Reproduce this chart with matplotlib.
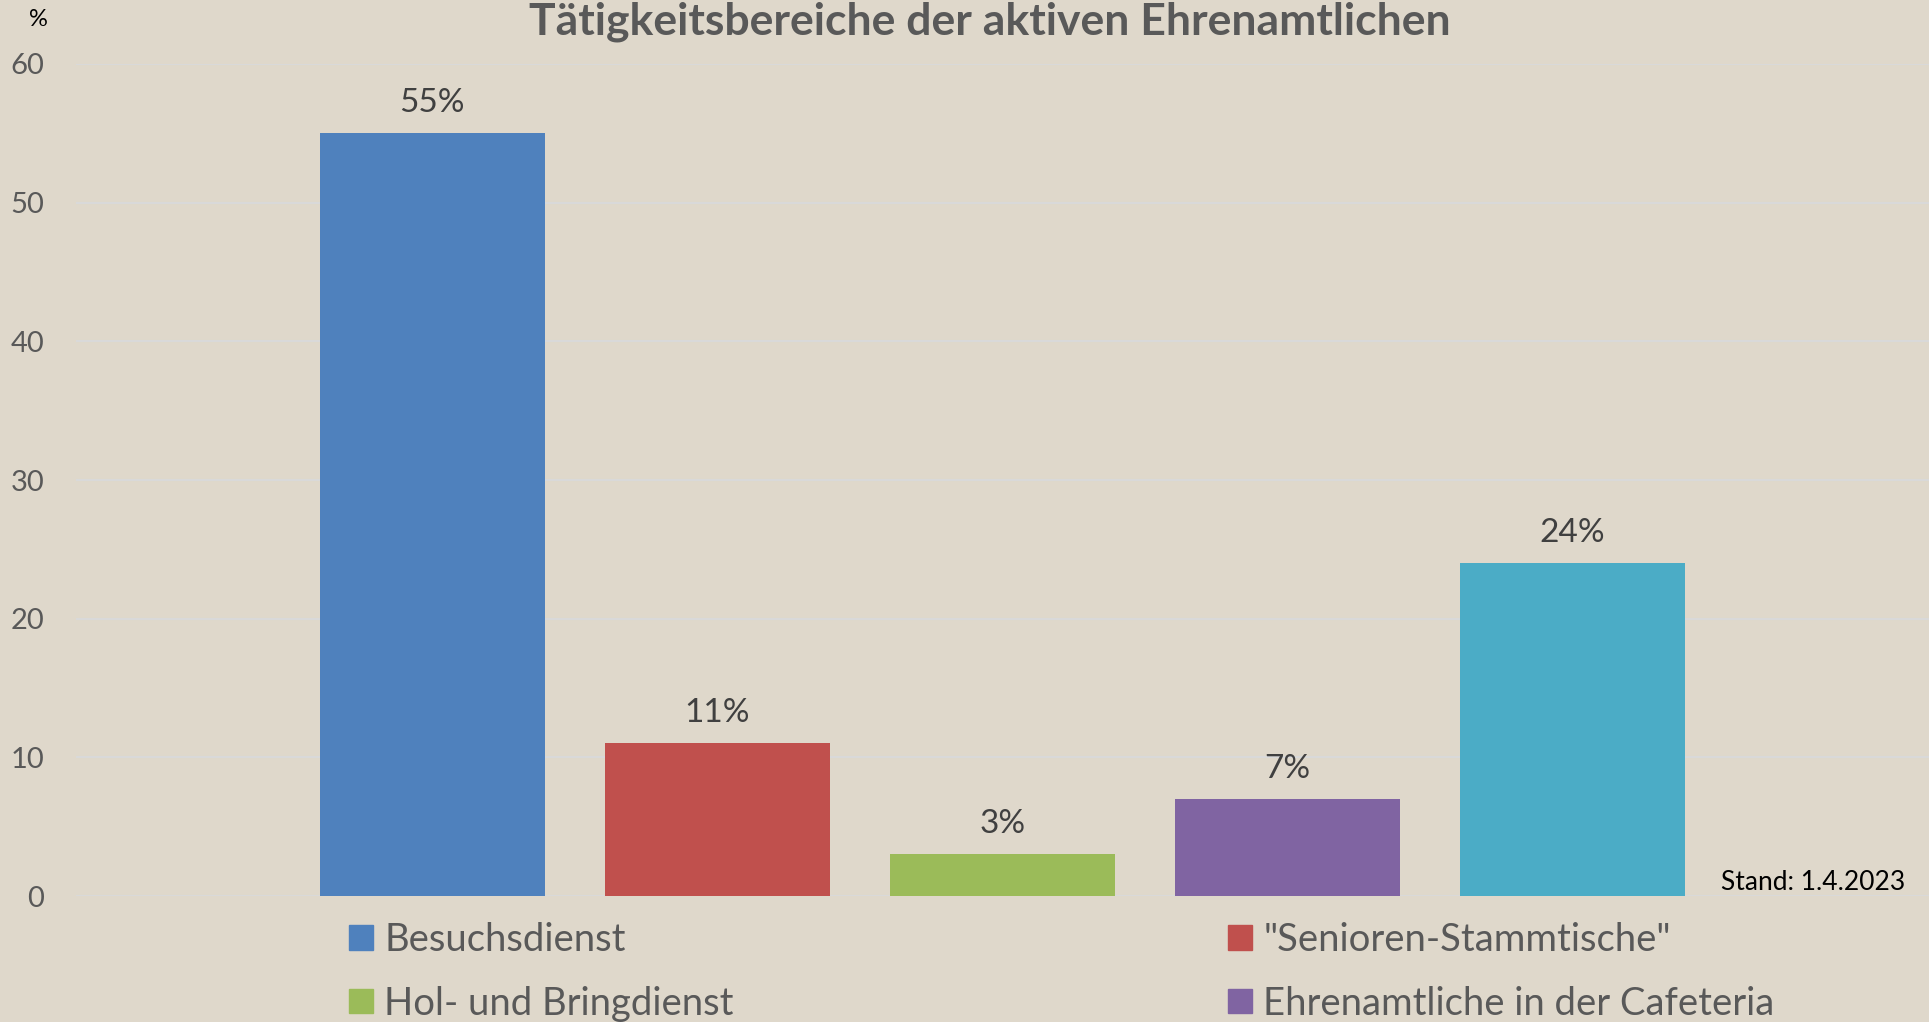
import matplotlib.pyplot as plt
from matplotlib.patches import Patch

# Tätigkeitsbereiche der aktiven Ehrenamtlichen (Stand 1.4.2023)
categories = [
    "Besuchsdienst",
    '"Senioren-Stammtische"',
    "Hol- und Bringdienst",
    "Ehrenamtliche in der Cafeteria",
    "",  # fifth legend entry is cut off in the original
]
values = [55, 11, 3, 7, 24]
colors = ["#4F81BD", "#C0504D", "#9BBB59", "#8064A2", "#4BACC6"]
yticks = [0, 10, 20, 30, 40, 50, 60]

BG = "#DFD8CB"
plt.rcParams["font.family"] = ["Lato", "DejaVu Sans"]

W, H = 1929, 1022
fig = plt.figure(figsize=(W / 100, H / 100), dpi=100, facecolor=BG)
ax = fig.add_axes([76 / W, (H - 896) / H, 1 - 76 / W, (896 - 64) / H], facecolor=BG)

x = list(range(len(values)))
bars = ax.bar(x, values, width=0.79, color=colors, zorder=3)
for b, v in zip(bars, values):
    ax.annotate(f"{v}%", (b.get_x() + b.get_width() / 2, v), xytext=(0, 11),
                textcoords="offset points", ha="center", va="bottom",
                fontsize=24, color="#404040")

ax.set_xlim(-1.25, 5.25)
ax.set_ylim(0, 60)
ax.set_yticks(yticks)
ax.set_xticks([])
ax.yaxis.grid(True, color="#D9D9D9", lw=1.5, zorder=0)
ax.tick_params(axis="y", length=0, pad=23, labelsize=21, labelcolor="#595959")
for s in ax.spines.values():
    s.set_visible(False)

fig.text(990 / W, 1 - 22 / H, "Tätigkeitsbereiche der aktiven Ehrenamtlichen",
         ha="center", va="center", fontsize=32, fontweight="bold", color="#595959")
fig.text(38 / W, 1 - 20 / H, "%", ha="center", va="center", fontsize=17, color="black")
fig.text(1721 / W, 1 - 890 / H, "Stand: 1.4.2023", ha="left", va="baseline",
         fontsize=19, color="black")

# legend laid out in two columns, row by row
handles = [Patch(color=c) for c in colors]
for col, idx in enumerate([[0, 2], [1, 3]]):
    xl = [349, 1228][col]
    fig.legend([handles[i] for i in idx], [categories[i] for i in idx],
               loc="upper left", bbox_to_anchor=(xl / W, 1 - 922 / H),
               frameon=False, borderpad=0, borderaxespad=0, fontsize=27.5,
               handlelength=0.62, handleheight=0.62, handletextpad=0.3,
               labelspacing=0.72, labelcolor="#595959")

fig.savefig("out.png", dpi=100, facecolor=BG)
